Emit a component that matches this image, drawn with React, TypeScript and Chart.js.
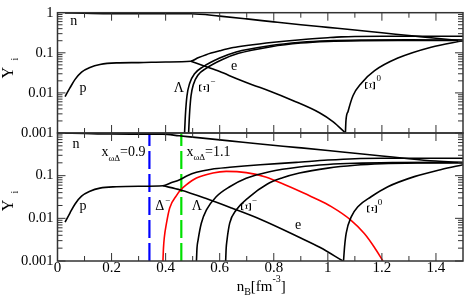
import React, { useEffect, useRef } from 'react';
import { Chart, registerables } from 'chart.js';

Chart.register(...registerables);

type Pt = [number, number];

const SERIF = '"Liberation Serif", "Times New Roman", Times, serif';
const FRAME_COLOR = '#333';

// ---------- axes ----------
const X_MIN = 0;
const X_MAX = 1.5;
const xMajorTicks = [0, 0.2, 0.4, 0.6, 0.8, 1.0, 1.2, 1.4];
const xTickLabels = ['0', '0.2', '0.4', '0.6', '0.8', '1', '1.2', '1.4'];
const xMinorTicks = [0.1, 0.3, 0.5, 0.7, 0.9, 1.1, 1.3];
const Y_MIN = 0.001;
const Y_MAX = 1;
const yDecades = [1, 0.1, 0.01, 0.001];
const yLabelsTop = ['1', '0.1', '0.01', '0.001'];
const yLabelsBottom = ['', '0.1', '0.01', '0.001'];
const yTitle = 'Y';
const yTitleSub = 'i';
const xTitleParts = ['n', 'B', '[fm', '-3', ']'];

// ---------- top panel series [nB, Y] ----------
const topNeutron: Pt[] = [[0.028, 0.992], [0.1, 0.97], [0.2, 0.946], [0.3, 0.943], [0.4, 0.941], [0.495, 0.94], [0.6, 0.82], [0.7, 0.7], [0.8, 0.59], [0.9, 0.5], [1.0, 0.43], [1.1, 0.37], [1.2, 0.315], [1.3, 0.27], [1.4, 0.23], [1.5, 0.2]];
const topProton: Pt[] = [[0.028, 0.0081], [0.046, 0.0133], [0.065, 0.0217], [0.089, 0.033], [0.12, 0.043], [0.157, 0.051], [0.218, 0.056], [0.3, 0.057], [0.4, 0.059], [0.493, 0.0615], [0.52, 0.075], [0.55, 0.09], [0.6, 0.112], [0.65, 0.135], [0.7, 0.152], [0.8, 0.183], [0.9, 0.212], [1.0, 0.238], [1.05, 0.25], [1.1, 0.256], [1.2, 0.258], [1.5, 0.258]];
const topLambda: Pt[] = [[0.47, 0.001], [0.472, 0.002], [0.474, 0.0035], [0.479, 0.0085], [0.489, 0.0175], [0.507, 0.03], [0.538, 0.0445], [0.6, 0.074], [0.661, 0.105], [0.784, 0.15], [0.9, 0.183], [1.0, 0.2], [1.13, 0.208], [1.3, 0.21], [1.5, 0.208]];
const topXiMinus: Pt[] = [[0.485, 0.001], [0.487, 0.002], [0.489, 0.0035], [0.494, 0.0085], [0.503, 0.0165], [0.52, 0.028], [0.55, 0.041], [0.61, 0.068], [0.67, 0.097], [0.79, 0.142], [0.9, 0.175], [1.0, 0.192], [1.13, 0.2], [1.3, 0.202], [1.5, 0.203]];
const topElectron: Pt[] = [[0.493, 0.0615], [0.55, 0.045], [0.6, 0.034], [0.661, 0.0229], [0.72, 0.016], [0.784, 0.0112], [0.87, 0.0065], [0.969, 0.0032], [1.02, 0.0019], [1.065, 0.001]];
const topXiZero: Pt[] = [[1.065, 0.001], [1.067, 0.002], [1.075, 0.0035], [1.093, 0.0085], [1.124, 0.0175], [1.173, 0.0358], [1.259, 0.0738], [1.382, 0.138], [1.5, 0.2]];

// ---------- bottom panel series [nB, Y] ----------
const bottomNeutron: Pt[] = [[0.028, 0.992], [0.1, 0.97], [0.2, 0.946], [0.3, 0.943], [0.39, 0.941], [0.45, 0.86], [0.5, 0.8], [0.637, 0.655], [0.75, 0.55], [0.89, 0.455], [1.0, 0.39], [1.1, 0.335], [1.2, 0.29], [1.3, 0.25], [1.4, 0.22], [1.5, 0.2]];
const bottomProton: Pt[] = [[0.028, 0.0081], [0.046, 0.0133], [0.065, 0.0217], [0.089, 0.033], [0.12, 0.043], [0.157, 0.051], [0.218, 0.055], [0.3, 0.0565], [0.39, 0.058], [0.42, 0.068], [0.452, 0.08], [0.48, 0.1], [0.514, 0.12], [0.57, 0.142], [0.637, 0.157], [0.75, 0.18], [0.883, 0.205], [1.0, 0.232], [1.1, 0.25], [1.2, 0.255], [1.5, 0.256]];
const bottomElectron: Pt[] = [[0.39, 0.058], [0.455, 0.046], [0.55, 0.029], [0.644, 0.0174], [0.75, 0.0095], [0.89, 0.0037], [0.97, 0.0021], [1.056, 0.001]];
const bottomLambda: Pt[] = [[0.514, 0.001], [0.516, 0.002], [0.52, 0.0031], [0.532, 0.0077], [0.551, 0.0157], [0.587, 0.032], [0.637, 0.055], [0.698, 0.087], [0.784, 0.124], [0.895, 0.16], [1.0, 0.183], [1.1, 0.195], [1.25, 0.202], [1.5, 0.205]];
const bottomXiMinus: Pt[] = [[0.622, 0.001], [0.624, 0.002], [0.627, 0.0031], [0.637, 0.0077], [0.661, 0.0157], [0.71, 0.032], [0.775, 0.063], [0.83, 0.088], [0.895, 0.115], [1.0, 0.15], [1.1, 0.175], [1.2, 0.19], [1.35, 0.198], [1.5, 0.2]];
const bottomXiZero: Pt[] = [[1.058, 0.001], [1.06, 0.0015], [1.062, 0.0022], [1.068, 0.0045], [1.087, 0.011], [1.111, 0.0187], [1.16, 0.032], [1.222, 0.055], [1.32, 0.095], [1.42, 0.14], [1.5, 0.18]];
const bottomDelta: Pt[] = [[0.39, 0.001], [0.392, 0.002], [0.395, 0.0035], [0.403, 0.0076], [0.415, 0.0175], [0.44, 0.034], [0.455, 0.046], [0.475, 0.06], [0.514, 0.088], [0.575, 0.116], [0.624, 0.126], [0.698, 0.118], [0.77, 0.093], [0.85, 0.058], [0.89, 0.045], [0.95, 0.03], [1.013, 0.0188], [1.085, 0.0091], [1.135, 0.0044], [1.172, 0.0021], [1.204, 0.001]];

// vertical coupling markers (nB position) and their labels
const couplingX = [0.34, 0.458];
const couplingColors = ['#0000ff', '#00e000'];
const couplingValues = ['=0.9', '=1.1'];

// ---------- text annotations (data coordinates) ----------
type Note = { text: string; sup?: string; rot?: boolean; x: number; y: number };
const topNotes: Note[] = [
  { text: 'n', x: 0.06, y: 0.615 },
  { text: 'p', x: 0.094, y: 0.0133 },
  { text: 'Λ', x: 0.449, y: 0.0133 },
  { text: 'Ξ', sup: '−', rot: true, x: 0.547, y: 0.0133 },
  { text: 'e', x: 0.653, y: 0.0469 },
  { text: 'Ξ', sup: '0', rot: true, x: 1.162, y: 0.0153 },
];
const bottomNotes: Note[] = [
  { text: 'n', x: 0.068, y: 0.546 },
  { text: 'p', x: 0.094, y: 0.0187 },
  { text: 'Δ', sup: '−', x: 0.378, y: 0.0187 },
  { text: 'Λ', x: 0.515, y: 0.0195 },
  { text: 'Ξ', sup: '−', rot: true, x: 0.701, y: 0.0187 },
  { text: 'e', x: 0.89, y: 0.00698 },
  { text: 'Ξ', sup: '0', rot: true, x: 1.167, y: 0.0166 },
];
const couplingNoteX = [0.3255, 0.4768];
const couplingNoteY = [0.284, 0.289];

const toXY = (pts: Pt[]) => pts.map(([x, y]) => ({ x, y }));

function curve(pts: Pt[], color = '#000') {
  return {
    data: toXY(pts),
    borderColor: color,
    borderWidth: 1.6,
    pointRadius: 0,
    fill: false,
    cubicInterpolationMode: 'monotone' as const,
  };
}

function vline(x: number, color: string) {
  return {
    data: [{ x, y: Y_MIN }, { x, y: Y_MAX }],
    borderColor: color,
    borderWidth: 2.2,
    borderDash: [18, 5],
    pointRadius: 0,
    fill: false,
    tension: 0,
  };
}

function labelFor(value: number, values: number[], labels: string[]) {
  for (let i = 0; i < values.length; i++) {
    if (Math.abs(value - values[i]) < 1e-9 * Math.max(1, Math.abs(values[i])) + 1e-12) return labels[i];
  }
  return '';
}

function logLabel(value: number, labels: string[]) {
  for (let i = 0; i < yDecades.length; i++) {
    if (Math.abs(Math.log10(value) - Math.log10(yDecades[i])) < 1e-6) return labels[i];
  }
  return '';
}

function drawNote(ctx: CanvasRenderingContext2D, n: Note, xs: any, ys: any) {
  const px = xs.getPixelForValue(n.x);
  const py = ys.getPixelForValue(n.y);
  ctx.fillStyle = '#000';
  ctx.textBaseline = 'middle';
  ctx.textAlign = 'center';
  let half: number;
  if (n.rot) {
    ctx.font = `14px ${SERIF}`;
    ctx.save();
    ctx.translate(px, py);
    ctx.rotate(-Math.PI / 2);
    ctx.fillText(n.text, 0, 0);
    ctx.restore();
    half = 4;
  } else {
    ctx.font = `14px ${SERIF}`;
    ctx.fillText(n.text, px, py);
    half = ctx.measureText(n.text).width / 2;
  }
  if (n.sup) {
    ctx.font = `9px ${SERIF}`;
    ctx.textAlign = 'left';
    ctx.fillText(n.sup, px + half + 0.8, py - 6.5);
  }
}

function drawCoupling(ctx: CanvasRenderingContext2D, i: number, xs: any, ys: any) {
  const parts: [string, number, number][] = [['x', 14, 0], ['ωΔ', 9, 4.3], [couplingValues[i], 14, 0]];
  let total = 0;
  const widths = parts.map(([t, s]) => {
    ctx.font = `${s}px ${SERIF}`;
    const w = ctx.measureText(t).width;
    total += w;
    return w;
  });
  const ax = xs.getPixelForValue(couplingNoteX[i]);
  const by = ys.getPixelForValue(couplingNoteY[i]);
  let x = i === 0 ? ax - total : ax;
  ctx.fillStyle = '#000';
  ctx.textAlign = 'left';
  ctx.textBaseline = 'alphabetic';
  parts.forEach(([t, s, dy], k) => {
    ctx.font = `${s}px ${SERIF}`;
    ctx.fillText(t, x, by + dy);
    x += widths[k];
  });
}

function decorPlugin(panel: 'top' | 'bottom') {
  return {
    id: 'decor-' + panel,
    afterDatasetsDraw(chart: any) {
      const ctx = chart.ctx as CanvasRenderingContext2D;
      const a = chart.chartArea;
      const xs = chart.scales.x;
      const ys = chart.scales.y;
      ctx.save();
      // inward ticks on all four sides
      ctx.strokeStyle = FRAME_COLOR;
      ctx.lineWidth = 1;
      ctx.beginPath();
      const vt = (px: number, len: number) => {
        ctx.moveTo(px, a.top);
        ctx.lineTo(px, a.top + len);
        ctx.moveTo(px, a.bottom);
        ctx.lineTo(px, a.bottom - len);
      };
      const ht = (py: number, len: number) => {
        ctx.moveTo(a.left, py);
        ctx.lineTo(a.left + len, py);
        ctx.moveTo(a.right, py);
        ctx.lineTo(a.right - len, py);
      };
      xMajorTicks.forEach((v) => vt(xs.getPixelForValue(v), 8));
      xMinorTicks.forEach((v) => vt(xs.getPixelForValue(v), 5));
      for (let e = -3; e < 0; e++) {
        for (let m = 1; m < 10; m++) ht(ys.getPixelForValue(m * Math.pow(10, e)), m === 1 ? 8 : 5);
      }
      ctx.stroke();
      // frame
      ctx.lineWidth = 1.5;
      ctx.strokeRect(a.left, a.top, a.right - a.left, a.bottom - a.top);

      // annotations
      const notes = panel === 'top' ? topNotes : bottomNotes;
      notes.forEach((n) => drawNote(ctx, n, xs, ys));
      if (panel === 'bottom') {
        couplingX.forEach((_, i) => drawCoupling(ctx, i, xs, ys));
      }

      // y-axis title  Y_i
      const cy = panel === 'top' ? a.top + 60 : a.top + 72.5;
      ctx.fillStyle = '#000';
      ctx.save();
      ctx.translate(8.5, cy);
      ctx.rotate(-Math.PI / 2);
      ctx.textAlign = 'center';
      ctx.textBaseline = 'middle';
      ctx.font = `16px ${SERIF}`;
      ctx.fillText(yTitle, 0, 0);
      ctx.font = `10px ${SERIF}`;
      ctx.fillText(yTitleSub, 13.5, 6.5);
      ctx.restore();

      // x-axis title  n_B[fm^-3]
      if (panel === 'bottom') {
        const sizes = [15, 10, 15, 10, 15];
        const dys = [0, 4, 0, -9, 0];
        let total = 0;
        const ws = xTitleParts.map((t, k) => {
          ctx.font = `${sizes[k]}px ${SERIF}`;
          const w = ctx.measureText(t).width;
          total += w;
          return w;
        });
        let x = (a.left + a.right) / 2 + 1 - total / 2;
        const base = 291;
        ctx.textAlign = 'left';
        ctx.textBaseline = 'alphabetic';
        xTitleParts.forEach((t, k) => {
          ctx.font = `${sizes[k]}px ${SERIF}`;
          ctx.fillText(t, x, base + dys[k]);
          x += ws[k];
        });
      }
      ctx.restore();
    },
  };
}

function makeConfig(panel: 'top' | 'bottom'): any {
  const isTop = panel === 'top';
  const datasets = isTop
    ? [curve(topNeutron), curve(topProton), curve(topLambda), curve(topXiMinus), curve(topElectron), curve(topXiZero)]
    : [
        curve(bottomNeutron),
        curve(bottomProton),
        curve(bottomElectron),
        curve(bottomLambda),
        curve(bottomXiMinus),
        curve(bottomXiZero),
        curve(bottomDelta, '#ff0000'),
        ...couplingX.map((x, i) => vline(x, couplingColors[i])),
      ];
  return {
    type: 'line',
    data: { datasets },
    options: {
      responsive: false,
      animation: false,
      devicePixelRatio: 1,
      layout: { padding: isTop ? { left: 0, right: 1, top: 5, bottom: 167 } : { left: 0, right: 1, top: 133, bottom: 0 } },
      plugins: { legend: { display: false }, tooltip: { enabled: false } },
      elements: { point: { radius: 0 } },
      scales: {
        x: {
          type: 'linear',
          min: X_MIN,
          max: X_MAX,
          display: !isTop,
          grid: { display: false, drawTicks: false },
          border: { display: false },
          ticks: {
            stepSize: 0.2,
            includeBounds: false,
            autoSkip: false,
            maxRotation: 0,
            padding: -2,
            color: '#000',
            font: { family: SERIF, size: 15 },
            callback: (v: number) => labelFor(v, xMajorTicks, xTickLabels),
          },
          afterFit: (s: any) => {
            s.height = isTop ? 0 : 39;
          },
        },
        y: {
          type: 'logarithmic',
          min: Y_MIN,
          max: Y_MAX,
          grid: { display: false, drawTicks: false },
          border: { display: false },
          ticks: {
            autoSkip: false,
            padding: 4,
            color: '#000',
            font: { family: SERIF, size: 14.5 },
            callback: (v: number) => logLabel(v, isTop ? yLabelsTop : yLabelsBottom),
          },
          afterFit: (s: any) => {
            s.width = 57.5;
          },
        },
      },
    },
    plugins: [decorPlugin(panel)],
  };
}

export default function App() {
  const topRef = useRef<HTMLCanvasElement>(null);
  const bottomRef = useRef<HTMLCanvasElement>(null);

  useEffect(() => {
    const charts: Chart[] = [];
    if (topRef.current) charts.push(new Chart(topRef.current, makeConfig('top')));
    if (bottomRef.current) charts.push(new Chart(bottomRef.current, makeConfig('bottom')));
    return () => charts.forEach((c) => c.destroy());
  }, []);

  const canvasStyle: React.CSSProperties = { position: 'absolute', left: 0, top: 0, width: 464, height: 300 };
  return (
    <div style={{ position: 'fixed', left: 0, top: 0, width: 464, height: 300, background: '#fff' }}>
      <canvas ref={topRef} width={464} height={300} style={canvasStyle} />
      <canvas ref={bottomRef} width={464} height={300} style={canvasStyle} />
    </div>
  );
}
